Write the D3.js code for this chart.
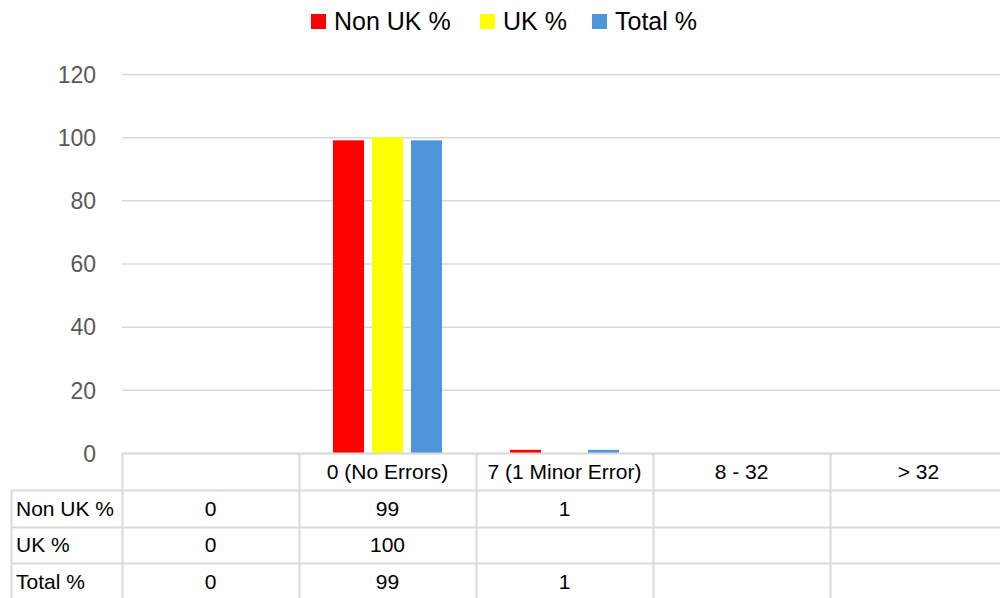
<!DOCTYPE html>
<html>
<head>
<meta charset="utf-8">
<script src="https://cdn.jsdelivr.net/npm/d3@7"></script>
<style>
  body { margin: 0; background: #fff; }
  text { font-family: "Liberation Sans", Arial, sans-serif; }
</style>
</head>
<body>
<svg id="chart"></svg>
<script>
// categories along the x axis (first one has no label)
const CATEGORIES = ["", "0 (No Errors)", "7 (1 Minor Error)", "8 - 32", "> 32"];
const SERIES = ["Non UK %", "UK %", "Total %"];
const NON_UK = [0, 99, 1, null, null];
const UK = [0, 100, null, null, null];
const TOTAL = [0, 99, 1, null, null];
const Y_TICKS = [0, 20, 40, 60, 80, 100, 120];

const COLORS = ["#FF0000", "#FFFF00", "#4E95D9"];
const WIDTH = 1000;
const HEIGHT = 598;
const GRID = "#d9d9d9";

const values = [NON_UK, UK, TOTAL];

const svg = d3.select("#chart")
    .attr("width", WIDTH)
    .attr("height", HEIGHT);

const plotLeft = 122, plotRight = 1007, plotTop = 74, plotBottom = 453;

const x = d3.scaleBand()
    .domain(CATEGORIES.map((d, i) => i))
    .range([plotLeft, plotRight]);

const x1 = d3.scaleBand()
    .domain(SERIES)
    .range([0, 109])
    .paddingInner(0.205);

const y = d3.scaleLinear()
    .domain([0, 120])
    .range([plotBottom, plotTop]);

// gridlines
svg.append("g")
    .selectAll("line")
    .data(Y_TICKS)
    .enter().append("line")
    .attr("x1", plotLeft)
    .attr("x2", WIDTH)
    .attr("y1", d => y(d) + 0.5)
    .attr("y2", d => y(d) + 0.5)
    .attr("stroke", GRID)
    .attr("stroke-width", 1.5);

// y axis labels
const yAxis = svg.append("g")
    .attr("transform", "translate(" + 96 + ",0)")
    .call(d3.axisLeft(y).tickValues(Y_TICKS).tickSize(0).tickPadding(0));
yAxis.select(".domain").remove();
yAxis.selectAll("text")
    .attr("fill", "#595959")
    .style("font-size", "23px")
    .attr("dy", "0.36em");

// bars
const groups = svg.append("g")
    .selectAll("g")
    .data(CATEGORIES.map((c, i) => i))
    .enter().append("g")
    .attr("transform", i => "translate(" + (x(i) + (x.bandwidth() - 109) / 2) + ",0)");

groups.selectAll("rect")
    .data(i => SERIES.map((s, k) => ({ s: s, k: k, v: values[k][i] })).filter(d => d.v != null))
    .enter().append("rect")
    .attr("x", d => x1(d.s))
    .attr("width", x1.bandwidth())
    .attr("y", d => y(d.v))
    .attr("height", d => y(0) - y(d.v))
    .attr("fill", d => COLORS[d.k]);

// data table
const rowTop = [453, 490, 527, 563, 600];
const table = svg.append("g");

// vertical lines between categories
table.selectAll(".vline")
    .data(CATEGORIES.map((c, i) => i))
    .enter().append("line")
    .attr("x1", i => x(i) + 0.5)
    .attr("x2", i => x(i) + 0.5)
    .attr("y1", plotBottom)
    .attr("y2", HEIGHT)
    .attr("stroke", GRID)
    .attr("stroke-width", 2);

// left border of the series label column
table.append("line")
    .attr("x1", 11.5).attr("x2", 11.5)
    .attr("y1", rowTop[1]).attr("y2", HEIGHT)
    .attr("stroke", GRID).attr("stroke-width", 2);

// horizontal lines
table.append("line")
    .attr("x1", plotLeft).attr("x2", WIDTH)
    .attr("y1", rowTop[0] + 0.5).attr("y2", rowTop[0] + 0.5)
    .attr("stroke", GRID).attr("stroke-width", 2);
table.selectAll(".hline")
    .data(rowTop.slice(1, 4))
    .enter().append("line")
    .attr("x1", 11)
    .attr("x2", WIDTH)
    .attr("y1", d => d + 0.5)
    .attr("y2", d => d + 0.5)
    .attr("stroke", GRID)
    .attr("stroke-width", 2);

// header labels
table.selectAll(".head")
    .data(CATEGORIES)
    .enter().append("text")
    .attr("x", (d, i) => x(i) + x.bandwidth() / 2)
    .attr("y", (rowTop[0] + rowTop[1]) / 2 + 7)
    .attr("text-anchor", "middle")
    .style("font-size", "21px")
    .attr("fill", "#000")
    .text(d => d);

// rows
SERIES.forEach((s, k) => {
    const cy = (rowTop[k + 1] + rowTop[k + 2]) / 2 + 7;
    table.append("text")
        .attr("x", 16)
        .attr("y", cy)
        .style("font-size", "21px")
        .attr("fill", "#000")
        .text(s);
    table.selectAll(".cell" + k)
        .data(values[k])
        .enter().append("text")
        .attr("x", (d, i) => x(i) + x.bandwidth() / 2)
        .attr("y", cy)
        .attr("text-anchor", "middle")
        .style("font-size", "21px")
        .attr("fill", "#000")
        .text(d => d == null ? "" : d);
});

// legend
const legendX = [311, 480, 592];
const legend = svg.append("g")
    .selectAll("g")
    .data(SERIES)
    .enter().append("g")
    .attr("transform", (d, i) => "translate(" + legendX[i] + ",14)");
legend.append("rect")
    .attr("width", 15)
    .attr("height", 15)
    .attr("fill", (d, i) => COLORS[i]);
legend.append("text")
    .attr("x", 23)
    .attr("y", 15.5)
    .style("font-size", "25px")
    .attr("fill", "#000")
    .text(d => d);
</script>
</body>
</html>
